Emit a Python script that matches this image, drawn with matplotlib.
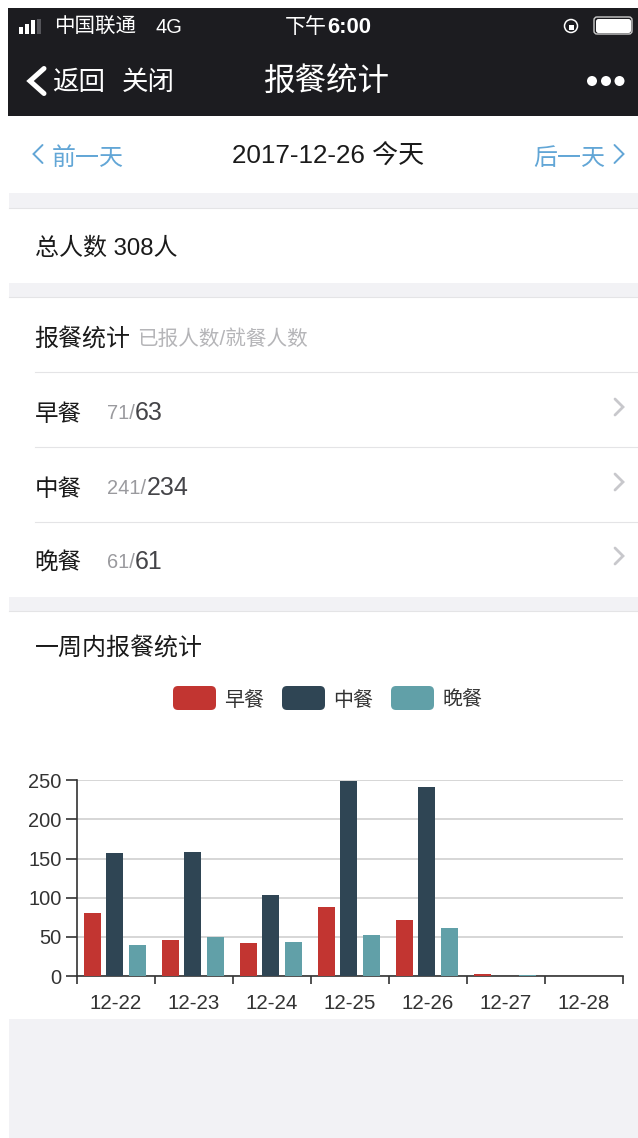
import matplotlib
matplotlib.use('Agg')
import matplotlib.pyplot as plt
from matplotlib.patches import Rectangle, FancyBboxPatch, Circle
import numpy as np

FONT = ['Liberation Sans', 'Noto Sans CJK SC', 'DejaVu Sans']
plt.rcParams['font.family'] = FONT

categories = ['12-22', '12-23', '12-24', '12-25', '12-26', '12-27', '12-28']
breakfast = [80, 46, 42, 88, 72, 3, 0]
lunch = [157, 159, 103, 249, 241, 0, 0]
dinner = [40, 50, 43, 52, 61, 1, 0]
series_names = ['早餐', '中餐', '晚餐']
series_colors = ['#c23531', '#2f4554', '#61a0a8']
y_ticks = [0, 50, 100, 150, 200, 250]

W, H = 638, 1138
fig = plt.figure(figsize=(W / 100, H / 100), dpi=100, facecolor='white')

ui = fig.add_axes([0, 0, 1, 1])
ui.set_xlim(0, W)
ui.set_ylim(H, 0)
ui.axis('off')

def rect(x0, y0, x1, y1, c, z=1):
    ui.add_patch(Rectangle((x0, y0), x1 - x0, y1 - y0, fc=c, ec='none', zorder=z))

def txt(x, y, s, size=22, c='#1a1a1a', ha='left', **k):
    ui.text(x, y, s, fontsize=size * 0.72, color=c, ha=ha, va='center', **k)

def chev(x, y, w, h, c, lw, left=True):
    d = -w if left else w
    ui.plot([x - d / 2, x + d / 2, x - d / 2], [y - h / 2, y, y + h / 2], color=c, lw=lw,
            solid_capstyle='round', solid_joinstyle='miter', zorder=3)

GRAY = '#f2f2f5'
LINE = '#e4e4e6'
rect(8, 8, W, 116, '#1c1c20')
for y0, y1 in [(193, 208), (283, 297), (597, 611), (1019, H)]:
    rect(9, y0, W, y1, GRAY)
for y in [208, 297, 611]:
    ui.plot([9, W], [y, y], color=LINE, lw=0.8, zorder=2)
for y in [372, 447, 522]:
    ui.plot([35, W], [y, y], color=LINE, lw=0.8, zorder=2)

# status bar
for x, h, c in [(21, 7, 'white'), (27, 10, 'white'), (33, 14, 'white'), (39, 15, '#55555a')]:
    rect(x - 2, 33.5 - h, x + 2, 33.5, c, 3)
txt(54, 27, '中国联通', 20.5, 'white')
txt(155, 27, '4G', 20, 'white')
txt(285, 27, '下午', 21, 'white')
txt(327, 27, '6:00', 22, 'white', fontweight='bold')
ui.add_patch(Circle((571, 26), 6.5, fc='none', ec='white', lw=1.1, zorder=3))
rect(568.5, 25, 573.5, 30, 'white', 4)
ui.add_patch(FancyBboxPatch((596, 19), 35, 14, boxstyle='round,pad=0,rounding_size=2.5', fc='white', ec='white', lw=0, zorder=3))
ui.add_patch(FancyBboxPatch((594, 17), 38, 17, boxstyle='round,pad=0,rounding_size=3', fc='none', ec='#cccccc', lw=1, zorder=3))

# navigation bar
chev(37, 81, 14, 25, 'white', 3.6)
txt(52, 83, '返回', 26.5, 'white')
txt(122, 83, '关闭', 26.5, 'white')
txt(327, 82, '报餐统计', 31.5, 'white', ha='center')
for x in [592, 606, 619.5]:
    ui.add_patch(Circle((x, 81), 5, fc='white', ec='none', zorder=3))

# date row
BLUE = '#62a6d6'
chev(38, 154, 9, 18, BLUE, 1.4)
txt(52, 159, '前一天', 24, BLUE)
txt(232, 157, '2017-12-26 今天', 26)
txt(533, 159, '后一天', 24, BLUE)
chev(619, 154, 9, 18, BLUE, 1.4, left=False)

txt(35, 249, '总人数 308人', 24)
txt(34, 339, '报餐统计', 24)
txt(137.5, 339, '已报人数/就餐人数', 20.6, '#b5b5b8')

rows = [('早餐', '71', '63', 412), ('中餐', '241', '234', 487), ('晚餐', '61', '61', 561)]
for name, a, b, y in rows:
    txt(34.5, y + 2, name, 23.5)
    ui.text(107, y + 1, a + '/', fontsize=20 * 0.72, color='#9a9a9e', va='center', ha='left')
    x_end = 107 + (len(a) * 11.1 + 6.0)
    ui.text(x_end, y + 1, b, fontsize=25 * 0.72, color='#444448', va='center', ha='left')
    chev(619, y - 5, 8, 16, '#c8c8cc', 2, left=False)

txt(35, 648, '一周内报餐统计', 24)

# legend
for x0, name, col in zip([173, 282, 391], series_names, series_colors):
    ui.add_patch(FancyBboxPatch((x0, 686), 43, 24, boxstyle='round,pad=0,rounding_size=5', fc=col, ec='none', zorder=3))
    txt(x0 + 51, 700, name, 20, '#333333')

# chart
left, right, top, bottom = 77, 623, 780.3, 976
ax = fig.add_axes([left / W, 1 - bottom / H, (right - left) / W, (bottom - top) / H])
ax.patch.set_alpha(0)
x = np.arange(len(categories))
nudge = -0.013
bw = 0.218
off = 0.288
for i, (vals, col) in enumerate(zip([breakfast, lunch, dinner], series_colors)):
    ax.bar(x + nudge + (i - 1) * off, vals, width=bw, color=col, zorder=3)
ax.set_xlim(-0.5, len(categories) - 0.5)
ax.set_ylim(0, 250)
ax.set_yticks(y_ticks)
ax.set_yticklabels([str(v) for v in y_ticks], fontsize=20 * 0.72, color='#333333')
ax.set_xticks(np.arange(len(categories) + 1) - 0.5)
ax.set_xticklabels([])
ax.set_xticks(x, minor=True)
ax.set_xticklabels(categories, minor=True, fontsize=20.5 * 0.72, color='#333333')
ax.tick_params(axis='x', which='major', length=6, width=1.2, color='#333333', direction='out')
ax.tick_params(axis='x', which='minor', length=0, pad=13)
ax.tick_params(axis='y', length=8, width=1.2, color='#333333', pad=3)
ax.grid(axis='y', color='#cccccc', lw=1.1, zorder=0)
ax.set_axisbelow(True)
for s in ['top', 'right']:
    ax.spines[s].set_visible(False)
for s in ['left', 'bottom']:
    ax.spines[s].set_color('#333333')
    ax.spines[s].set_linewidth(1.2)

fig.savefig('out.png', dpi=100)
